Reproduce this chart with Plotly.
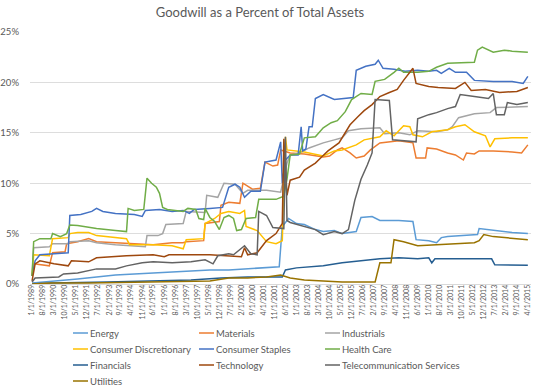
import plotly.graph_objects as go

# ---------------- data (percent of total assets), (month, value) ----------------
ENERGY = [("1989-01", 0.1), ("1990-06", 0.3), ("1991-06", 0.5), ("1992-06", 0.7), ("1993-06", 0.9),
          ("1994-06", 1.0), ("1995-06", 1.1), ("1996-06", 1.2), ("1997-06", 1.3), ("1998-06", 1.4),
          ("1999-06", 1.4), ("2000-06", 1.5), ("2001-06", 1.6), ("2002-02", 1.7), ("2002-04", 5.7),
          ("2002-08", 6.5), ("2003-01", 6.0), ("2003-06", 5.9), ("2004-01", 5.4), ("2004-06", 5.2),
          ("2005-01", 5.3), ("2005-06", 5.0), ("2006-03", 5.2), ("2006-06", 6.6), ("2007-01", 6.7),
          ("2007-06", 6.3), ("2008-06", 6.3), ("2009-03", 6.2), ("2009-05", 4.4), ("2010-01", 4.3),
          ("2010-06", 4.1), ("2010-09", 4.6), ("2011-01", 4.7), ("2012-06", 4.9), ("2012-08", 4.9),
          ("2012-09", 5.5), ("2013-06", 5.3), ("2014-06", 5.1), ("2015-04", 5.0)]

MATERIALS = [("1989-01", 0.8), ("1989-02", 2.0), ("1989-12", 1.8), ("1990-02", 3.1), ("1990-10", 3.2),
             ("1990-11", 4.0), ("1991-06", 4.2), ("1992-01", 4.5), ("1992-06", 4.2), ("1993-06", 4.1),
             ("1994-06", 4.0), ("1995-06", 3.9), ("1996-06", 4.1), ("1997-01", 4.1), ("1997-03", 4.2),
             ("1998-02", 4.3), ("1998-03", 6.0), ("1998-12", 6.2), ("1999-01", 7.8), ("1999-06", 8.1),
             ("2000-01", 8.0), ("2000-03", 10.0), ("2000-09", 9.4), ("2001-02", 9.5), ("2001-05", 12.1),
             ("2001-10", 11.7), ("2002-01", 11.8), ("2002-03", 13.3), ("2002-09", 13.0), ("2003-06", 12.9),
             ("2004-06", 12.6), ("2004-10", 12.7), ("2005-03", 13.3), ("2005-06", 13.5), ("2005-11", 13.0),
             ("2006-03", 12.5), ("2006-08", 12.7), ("2006-12", 13.3), ("2007-06", 14.0), ("2008-06", 14.2),
             ("2009-03", 14.0), ("2009-05", 12.5), ("2009-11", 12.5), ("2009-12", 13.5), ("2010-06", 13.4),
             ("2011-01", 13.0), ("2011-06", 12.8), ("2011-11", 12.3), ("2012-01", 13.0), ("2012-06", 12.9),
             ("2012-09", 13.2), ("2013-06", 13.2), ("2014-06", 13.1), ("2014-12", 13.0), ("2015-04", 13.8)]

INDUSTRIALS = [("1989-01", 0.8), ("1989-02", 3.6), ("1989-12", 3.7), ("1990-02", 4.0), ("1990-12", 4.0),
               ("1991-01", 4.2), ("1992-01", 4.3), ("1992-06", 4.1), ("1993-06", 3.9), ("1994-06", 3.8),
               ("1995-01", 3.7), ("1995-02", 4.8), ("1995-09", 4.8), ("1995-12", 5.0), ("1996-02", 5.9),
               ("1997-01", 6.0), ("1997-03", 7.2), ("1998-03", 7.1), ("1998-04", 8.8), ("1998-11", 8.6),
               ("1999-03", 10.0), ("1999-10", 9.9), ("2000-03", 9.0), ("2000-06", 9.3), ("2001-06", 9.3),
               ("2002-03", 9.1), ("2002-07", 12.0), ("2002-09", 12.8), ("2003-03", 13.0), ("2003-09", 13.5),
               ("2004-06", 14.0), ("2005-01", 14.3), ("2005-06", 14.5), ("2005-10", 15.2), ("2006-06", 15.4),
               ("2007-06", 15.5), ("2007-09", 14.9), ("2008-06", 15.0), ("2009-01", 14.8), ("2009-06", 15.2),
               ("2010-06", 15.1), ("2011-01", 15.3), ("2011-04", 15.6), ("2011-08", 16.5), ("2012-06", 16.9),
               ("2013-04", 17.0), ("2013-08", 17.5), ("2015-04", 17.6)]

CONS_DISC = [("1989-01", 0.8), ("1989-02", 2.9), ("1989-12", 2.8), ("1990-02", 4.5), ("1990-12", 4.6),
             ("1991-01", 5.0), ("1991-06", 5.1), ("1992-01", 5.1), ("1992-06", 4.8), ("1993-06", 4.6),
             ("1994-01", 4.5), ("1994-03", 3.9), ("1995-06", 3.9), ("1996-06", 3.8), ("1997-01", 3.5),
             ("1997-03", 4.4), ("1998-02", 4.5), ("1998-03", 6.0), ("1998-09", 6.5), ("1999-01", 7.0),
             ("1999-06", 7.2), ("2000-01", 7.0), ("2000-04", 7.3), ("2000-05", 5.7), ("2000-12", 5.3),
             ("2001-06", 4.2), ("2001-12", 4.0), ("2002-04", 4.3), ("2002-06", 14.6), ("2002-07", 13.3),
             ("2003-06", 13.1), ("2004-06", 12.7), ("2005-01", 13.2), ("2005-06", 13.3), ("2006-03", 13.8),
             ("2006-08", 14.3), ("2007-06", 14.6), ("2007-10", 15.2), ("2008-03", 14.7), ("2008-09", 15.7),
             ("2009-01", 15.6), ("2009-03", 14.8), ("2009-09", 14.6), ("2010-03", 15.1), ("2011-01", 15.3),
             ("2011-06", 15.6), ("2011-12", 15.8), ("2012-06", 15.1), ("2013-01", 14.7), ("2013-04", 13.6),
             ("2013-07", 14.4), ("2014-06", 14.5), ("2015-04", 14.5)]

CONS_STAPLES = [("1989-01", 0.8), ("1989-03", 2.3), ("1989-06", 2.9), ("1990-06", 3.0), ("1990-12", 3.1),
                ("1991-01", 6.8), ("1991-08", 6.9), ("1992-03", 7.2), ("1992-06", 7.5), ("1992-10", 7.2),
                ("1993-06", 7.0), ("1994-06", 6.9), ("1994-11", 6.7), ("1995-01", 7.3), ("1995-10", 7.4),
                ("1996-06", 7.2), ("1997-01", 7.3), ("1997-05", 7.0), ("1997-08", 7.4), ("1998-06", 7.5),
                ("1999-02", 7.6), ("1999-06", 9.6), ("1999-10", 9.9), ("2000-01", 9.6), ("2000-04", 8.6),
                ("2000-08", 9.2), ("2001-02", 9.2), ("2001-05", 12.1), ("2001-12", 12.3), ("2002-03", 14.1),
                ("2002-04", 10.0), ("2002-06", 12.3), ("2002-09", 12.8), ("2003-02", 12.8), ("2003-04", 15.6),
                ("2003-05", 13.2), ("2003-07", 13.4), ("2003-09", 15.6), ("2003-11", 15.6), ("2004-01", 18.4),
                ("2004-06", 18.8), ("2005-01", 18.3), ("2005-06", 18.4), ("2006-01", 18.5), ("2006-03", 21.2),
                ("2006-09", 21.6), ("2007-03", 21.8), ("2007-05", 22.2), ("2007-08", 21.4), ("2008-03", 21.3),
                ("2008-10", 21.1), ("2009-06", 21.2), ("2010-01", 21.1), ("2010-06", 21.2), ("2010-09", 20.9),
                ("2011-02", 21.4), ("2011-06", 21.0), ("2012-01", 21.0), ("2012-06", 20.2), ("2013-06", 20.1),
                ("2014-06", 20.1), ("2015-01", 19.9), ("2015-04", 20.6)]

HEALTH_CARE = [("1989-01", 0.8), ("1989-02", 4.2), ("1989-06", 4.5), ("1990-01", 4.5), ("1990-02", 5.0),
               ("1990-07", 4.7), ("1990-11", 5.0), ("1991-01", 5.85), ("1991-06", 5.8), ("1992-01", 5.6),
               ("1992-06", 5.5), ("1993-06", 5.3), ("1994-01", 5.2), ("1994-02", 7.5), ("1994-06", 7.3),
               ("1994-12", 7.4), ("1995-02", 10.5), ("1995-05", 10.0), ("1995-08", 9.6), ("1995-10", 9.0),
               ("1995-12", 7.6), ("1996-03", 7.4), ("1996-09", 7.3), ("1997-01", 7.2), ("1997-04", 7.5),
               ("1997-09", 7.4), ("1997-11", 6.5), ("1998-02", 6.4), ("1998-03", 7.5), ("1998-06", 6.6),
               ("1998-09", 6.2), ("1998-12", 5.4), ("1999-03", 6.6), ("1999-06", 6.8), ("1999-09", 6.5),
               ("1999-11", 5.3), ("2000-02", 5.4), ("2000-05", 6.5), ("2000-11", 6.6), ("2001-01", 8.4),
               ("2001-12", 8.4), ("2002-05", 8.7), ("2002-07", 10.4), ("2002-09", 12.8), ("2003-03", 12.9),
               ("2003-06", 14.5), ("2004-01", 14.6), ("2004-06", 15.5), ("2004-11", 16.0), ("2005-03", 16.2),
               ("2005-08", 17.1), ("2005-12", 18.3), ("2006-06", 18.9), ("2007-01", 18.8), ("2007-03", 20.1),
               ("2007-09", 20.3), ("2008-03", 21.0), ("2008-06", 21.4), ("2008-09", 21.0), ("2009-06", 21.0),
               ("2010-01", 21.1), ("2010-06", 21.5), ("2011-01", 21.9), ("2012-06", 22.0), ("2012-08", 23.2),
               ("2012-11", 23.5), ("2013-06", 23.0), ("2014-01", 23.2), ("2014-06", 23.1), ("2015-04", 23.0)]

FINANCIALS = [("1989-01", 0.0), ("1990-01", 0.1), ("1993-01", 0.2), ("1996-01", 0.3), ("1997-06", 0.4),
              ("1999-01", 0.6), ("2000-06", 0.7), ("2002-04", 0.7), ("2002-06", 1.4), ("2003-01", 1.6),
              ("2004-06", 1.8), ("2005-06", 2.1), ("2006-06", 2.3), ("2007-06", 2.5), ("2008-06", 2.6),
              ("2009-06", 2.5), ("2010-01", 2.6), ("2010-03", 2.1), ("2010-05", 2.5), ("2012-06", 2.5),
              ("2013-05", 2.5), ("2013-07", 1.9), ("2015-04", 1.85)]

TECHNOLOGY = [("1989-01", 0.3), ("1989-03", 2.0), ("1989-06", 2.3), ("1990-03", 2.0), ("1990-12", 1.8),
              ("1991-02", 2.3), ("1992-01", 2.2), ("1992-06", 2.6), ("1994-01", 2.8), ("1995-06", 2.9),
              ("1996-01", 2.7), ("1996-04", 2.9), ("1998-06", 2.9), ("1999-06", 2.8), ("2000-02", 2.7),
              ("2000-04", 3.6), ("2000-06", 2.9), ("2000-12", 3.1), ("2001-03", 3.7), ("2001-06", 4.3),
              ("2001-12", 5.0), ("2002-04", 6.0), ("2002-05", 14.4), ("2002-07", 8.8), ("2002-09", 10.3),
              ("2003-03", 10.6), ("2003-06", 11.3), ("2003-09", 11.6), ("2004-01", 12.0), ("2004-05", 12.6),
              ("2004-09", 13.2), ("2005-04", 14.0), ("2005-08", 15.0), ("2005-11", 15.8), ("2006-04", 16.6),
              ("2006-08", 17.2), ("2007-01", 17.8), ("2007-06", 18.6), ("2007-12", 19.0), ("2008-05", 19.3),
              ("2008-09", 20.2), ("2009-01", 21.0), ("2009-03", 21.4), ("2009-05", 19.9), ("2010-01", 19.6),
              ("2010-07", 19.5), ("2011-06", 19.4), ("2011-12", 20.0), ("2012-04", 19.2), ("2013-01", 19.3),
              ("2013-10", 19.0), ("2014-09", 19.1), ("2015-04", 19.5)]

TELECOM = [("1989-01", 0.2), ("1989-03", 0.6), ("1990-06", 0.7), ("1990-09", 1.0), ("1991-06", 1.1),
           ("1992-06", 1.5), ("1993-06", 1.5), ("1994-01", 1.8), ("1994-11", 2.1), ("1995-06", 2.2),
           ("1996-06", 2.1), ("1997-06", 2.2), ("1998-03", 2.4), ("1998-08", 2.0), ("1998-11", 2.8),
           ("1999-06", 3.0), ("1999-09", 2.9), ("2000-04", 3.8), ("2000-08", 3.0), ("2000-12", 2.9),
           ("2001-01", 7.2), ("2001-06", 6.8), ("2001-10", 5.6), ("2002-05", 5.5), ("2002-06", 14.6),
           ("2002-07", 6.3), ("2002-09", 6.1), ("2003-06", 5.7), ("2004-01", 5.4), ("2004-06", 4.9),
           ("2005-01", 5.2), ("2005-06", 5.0), ("2005-10", 5.4), ("2006-02", 8.3), ("2006-06", 10.4),
           ("2006-10", 11.8), ("2007-01", 13.0), ("2007-03", 18.3), ("2007-12", 18.2), ("2008-02", 14.3),
           ("2009-05", 14.1), ("2009-06", 16.4), ("2010-01", 16.8), ("2010-06", 17.0), ("2011-01", 17.4),
           ("2011-06", 17.6), ("2011-09", 18.8), ("2012-06", 18.6), ("2013-03", 18.4), ("2013-06", 18.9),
           ("2013-08", 16.8), ("2014-01", 16.8), ("2014-03", 18.0), ("2014-09", 17.8), ("2015-04", 18.0)]

UTILITIES = [("1989-01", 0.0), ("1990-01", 0.1), ("1992-01", 0.1), ("1994-01", 0.15), ("1996-01", 0.2),
             ("1998-06", 0.3), ("1999-06", 0.6), ("2000-06", 0.6), ("2001-06", 0.7), ("2002-03", 0.9),
             ("2002-09", 0.6), ("2003-06", 0.4), ("2004-06", 0.3), ("2005-06", 0.2), ("2006-06", 0.2),
             ("2007-03", 0.2), ("2007-06", 2.1), ("2008-01", 2.1), ("2008-03", 4.4), ("2008-09", 4.2),
             ("2009-06", 3.8), ("2010-06", 3.9), ("2011-06", 4.0), ("2012-06", 4.1), ("2012-09", 4.3),
             ("2012-12", 4.9), ("2013-06", 4.7), ("2014-01", 4.6), ("2015-04", 4.4)]

TICK_LABELS = ["1/1/1989", "8/1/1989", "3/1/1990", "10/1/1990", "5/1/1991", "12/1/1991", "7/1/1992",
               "2/1/1993", "9/1/1993", "4/1/1994", "11/1/1994", "6/1/1995", "1/1/1996", "8/1/1996",
               "3/1/1997", "10/1/1997", "5/1/1998", "12/1/1998", "7/1/1999", "2/1/2000", "9/1/2000",
               "4/1/2001", "11/1/2001", "6/1/2002", "1/1/2003", "8/1/2003", "3/1/2004", "10/1/2004",
               "5/1/2005", "12/1/2005", "7/1/2006", "2/1/2007", "9/1/2007", "4/1/2008", "11/1/2008",
               "6/1/2009", "1/1/2010", "8/1/2010", "3/1/2011", "10/1/2011", "5/1/2012", "12/1/2012",
               "7/1/2013", "2/1/2014", "9/1/2014", "4/1/2015"]

Y_TICKS = [0, 5, 10, 15, 20, 25]
Y_TICK_LABELS = ["0%", "5%", "10%", "15%", "20%", "25%"]

SERIES = [
    ("Energy", ENERGY, "#5B9BD5"),
    ("Materials", MATERIALS, "#ED7D31"),
    ("Industrials", INDUSTRIALS, "#A5A5A5"),
    ("Consumer Discretionary", CONS_DISC, "#FFC000"),
    ("Consumer Staples", CONS_STAPLES, "#4472C4"),
    ("Health Care", HEALTH_CARE, "#70AD47"),
    ("Financials", FINANCIALS, "#255E91"),
    ("Technology", TECHNOLOGY, "#9E480E"),
    ("Telecommunication Services", TELECOM, "#636363"),
    ("Utilities", UTILITIES, "#997300"),
]


def to_iso(label):
    m, d, y = label.split("/")
    return f"{y}-{int(m):02d}-{int(d):02d}"


FONT = "Lato, 'Open Sans', sans-serif"
TEXT = "#595959"

W, H = 540, 388
ML, MR, MT, MB = 30, 9, 32, 104
PW, PH = W - ML - MR, H - MT - MB


def px_x(px):
    return (px - ML) / PW


def px_y(py):
    return (H - MB - py) / PH


fig = go.Figure()
for name, data, color in SERIES:
    fig.add_trace(go.Scatter(
        x=[d + "-01" for d, _ in data],
        y=[v for _, v in data],
        mode="lines", name=name, showlegend=False,
        line=dict(color=color, width=1.5),
    ))

# legend laid out like the original (3 columns, 16 px rows)
shapes, annotations = [], []
for i, (name, _, color) in enumerate(SERIES):
    row, col = divmod(i, 3)
    x0 = 73 + 126 * col
    yy = 333 + 16 * row
    shapes.append(dict(type="line", xref="paper", yref="paper",
                       x0=px_x(x0), x1=px_x(x0 + 15), y0=px_y(yy), y1=px_y(yy),
                       line=dict(color=color, width=1.5)))
    annotations.append(dict(text=name, xref="paper", yref="paper", x=px_x(x0 + 15), y=px_y(yy),
                            xanchor="left", yanchor="middle", showarrow=False,
                            font=dict(size=9.5, color=TEXT, family=FONT)))

fig.update_layout(
    width=W, height=H,
    margin=dict(l=ML, r=MR, t=MT, b=MB, autoexpand=False),
    paper_bgcolor="white", plot_bgcolor="white",
    font=dict(family=FONT, color=TEXT),
    title=dict(text="Goodwill as a Percent of Total Assets", x=260 / W, xanchor="center",
               xref="container", y=1 - 12 / H, yanchor="middle", yref="container",
               font=dict(size=13, color=TEXT, family=FONT)),
    xaxis=dict(type="date", range=["1988-11-22", "2015-06-01"],
               tickmode="array", tickvals=[to_iso(t) for t in TICK_LABELS], ticktext=TICK_LABELS,
               tickangle=-90, tickfont=dict(size=7, color=TEXT), showgrid=False,
               showline=True, linecolor="#D9D9D9", linewidth=1, ticks="", zeroline=False,
               ticklabeloverflow="allow", ticklabelstandoff=-3, fixedrange=True),
    yaxis=dict(range=[0, 25], tickmode="array", tickvals=Y_TICKS, ticktext=Y_TICK_LABELS,
               showgrid=True, gridcolor="#DDDDDD", gridwidth=1, zeroline=False, showline=False,
               tickfont=dict(size=9.5, color=TEXT), ticks="", ticklabelstandoff=10, fixedrange=True),
    shapes=shapes,
    annotations=annotations,
    showlegend=False,
)

fig.write_html(
    "out.html",
    config={"displayModeBar": False},
    post_script="document.body.style.margin='0';document.body.style.overflow='hidden';",
)
